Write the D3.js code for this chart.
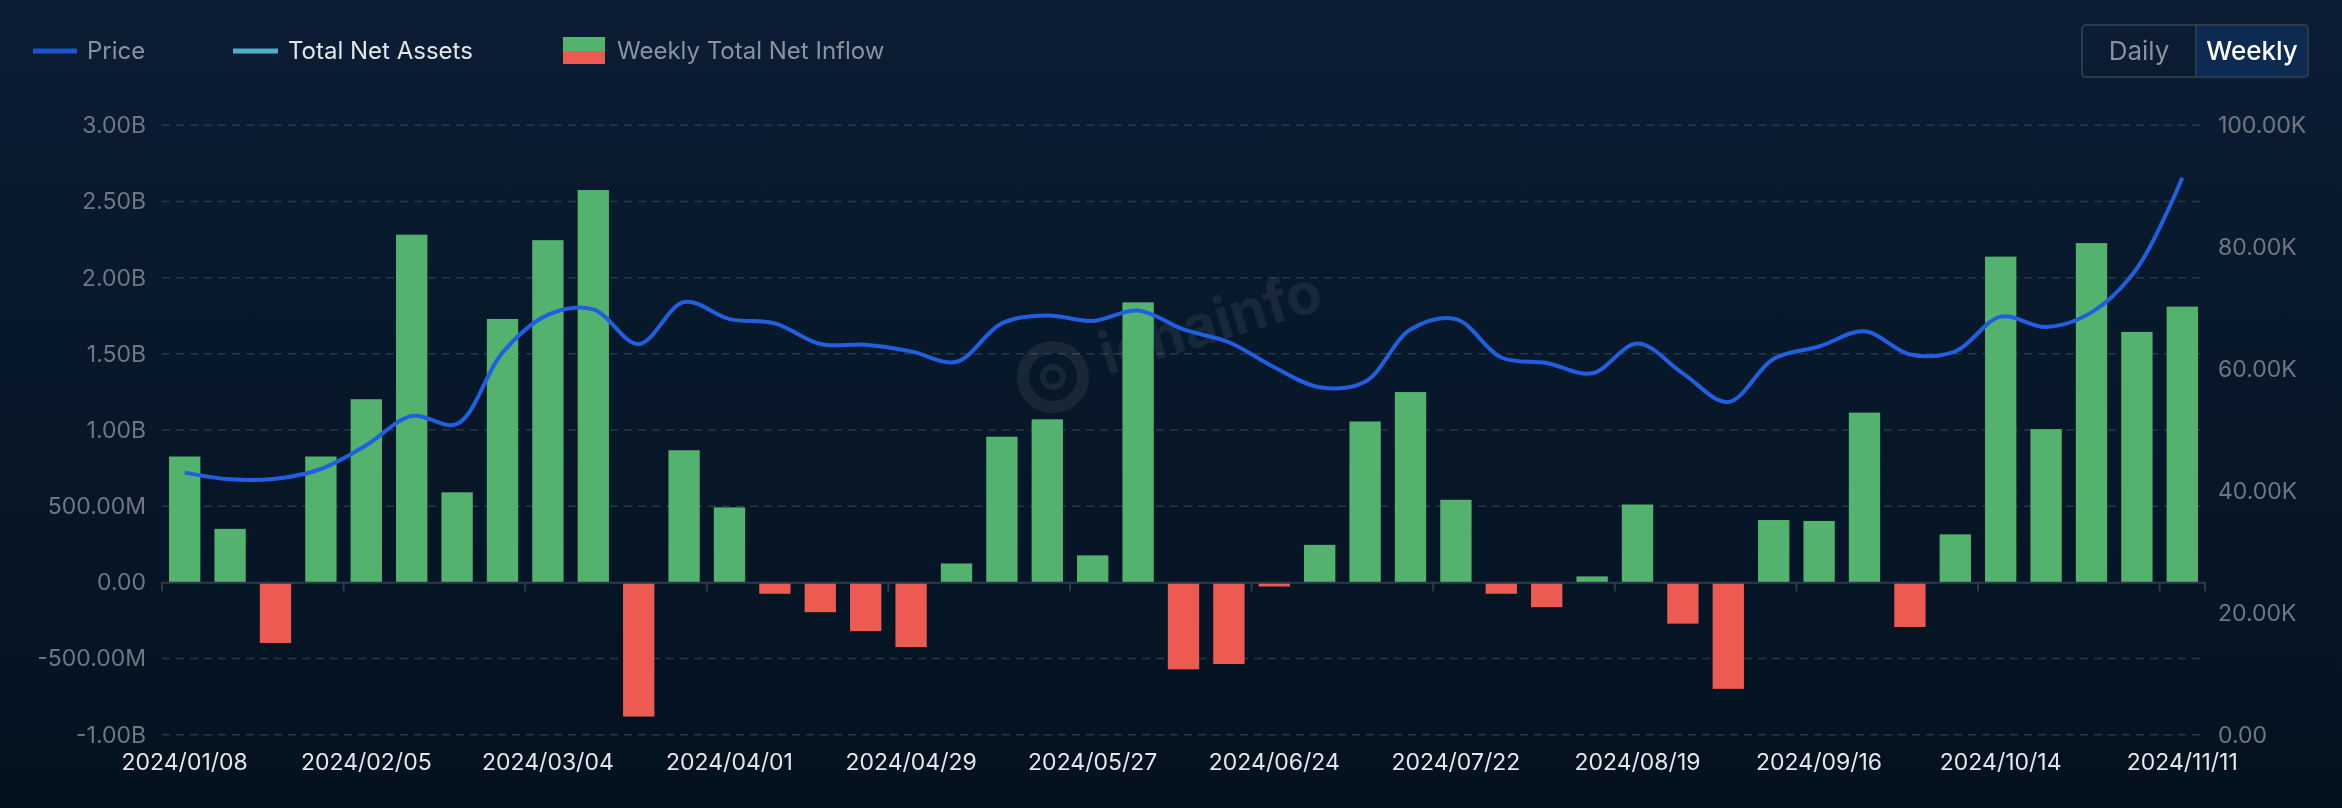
<!DOCTYPE html>
<html lang="en">
<head>
    <meta charset="UTF-8">
    <title>Weekly Total Net Inflow</title>
    <script src="https://cdn.jsdelivr.net/npm/d3@7"></script>
    <style>
        html, body {
            margin: 0;
            padding: 0;
            width: 2342px;
            height: 808px;
            overflow: hidden;
            background: #081a2e;
        }
        svg text {
            font-family: Inter, "Noto Sans", "Liberation Sans", sans-serif;
        }
    </style>
</head>
<body>
<div id="chart"></div>
<script>
    // weekly categories
    const weeks = [
        "2024/01/08", "2024/01/15", "2024/01/22", "2024/01/29",
        "2024/02/05", "2024/02/12", "2024/02/19", "2024/02/26",
        "2024/03/04", "2024/03/11", "2024/03/18", "2024/03/25",
        "2024/04/01", "2024/04/08", "2024/04/15", "2024/04/22",
        "2024/04/29", "2024/05/06", "2024/05/13", "2024/05/20",
        "2024/05/27", "2024/06/03", "2024/06/10", "2024/06/17",
        "2024/06/24", "2024/07/01", "2024/07/08", "2024/07/15",
        "2024/07/22", "2024/07/29", "2024/08/05", "2024/08/12",
        "2024/08/19", "2024/08/26", "2024/09/02", "2024/09/09",
        "2024/09/16", "2024/09/23", "2024/09/30", "2024/10/07",
        "2024/10/14", "2024/10/21", "2024/10/28", "2024/11/04",
        "2024/11/11"
    ];

    // weekly total net inflow, millions USD
    const netInflow = [
        826, 351, -398, 826, 1202, 2282, 591, 1729, 2246, 2575,
        -881, 867, 492, -75, -196, -320, -425, 124, 956, 1070,
        177, 1838, -571, -536, -27, 246, 1056, 1249, 542, -75,
        -163, 39, 511, -271, -699, 409, 403, 1114, -293, 315,
        2138, 1006, 2227, 1644, 1810
    ];

    // price, thousands USD
    const price = [
        43.0, 41.9, 42.0, 43.6, 47.5, 52.3, 51.0, 62.7, 68.9, 69.8,
        64.1, 71.0, 68.2, 67.5, 64.1, 64.0, 62.9, 61.2, 67.5, 68.8,
        67.9, 69.6, 66.5, 64.4, 60.3, 57.0, 57.9, 66.5, 68.2, 61.9,
        61.0, 59.3, 64.2, 59.3, 54.6, 61.7, 63.7, 66.2, 62.4, 62.9,
        68.6, 66.9, 69.3, 76.5, 91.4
    ];

    // axis ticks
    const leftTicks = [-1000, -500, 0, 500, 1000, 1500, 2000, 2500, 3000];
    const rightTicks = [0, 20, 40, 60, 80, 100];
    const labelWeeks = weeks.filter((d, i) => i % 4 === 0);

    const width = 2342;
    const height = 808;
    const plotLeft = 162, plotRight = 2205, plotTop = 125.3, plotBottom = 734.7;

    const svg = d3.select("#chart")
        .append("svg")
        .attr("width", width)
        .attr("height", height);

    // background
    const defs = svg.append("defs");
    const bg = defs.append("linearGradient")
        .attr("id", "bg")
        .attr("x1", 0).attr("y1", 0).attr("x2", 0).attr("y2", 1);
    bg.append("stop").attr("offset", "0%").attr("stop-color", "#0b1d34");
    bg.append("stop").attr("offset", "100%").attr("stop-color", "#04121f");
    svg.append("rect")
        .attr("width", width).attr("height", height)
        .attr("fill", "url(#bg)");

    const x = d3.scaleBand()
        .domain(weeks)
        .range([plotLeft, plotRight])
        .paddingInner(0.31)
        .paddingOuter(0.155);

    const yL = d3.scaleLinear().domain([-1000, 3000]).range([plotBottom, plotTop]);
    const yR = d3.scaleLinear().domain([0, 100]).range([plotBottom, plotTop]);

    const fmtL = v => v === 0 ? "0.00"
        : Math.abs(v) >= 1000 ? (v / 1000).toFixed(2) + "B"
        : v.toFixed(2) + "M";
    const fmtR = v => v === 0 ? "0.00" : v.toFixed(2) + "K";

    // grid
    svg.append("g")
        .selectAll("line")
        .data(leftTicks.filter(d => d !== 0))
        .enter()
        .append("line")
        .attr("x1", plotLeft).attr("x2", plotRight - 4)
        .attr("y1", d => yL(d)).attr("y2", d => yL(d))
        .attr("stroke", "#27384b")
        .attr("stroke-width", 1.5)
        .attr("stroke-dasharray", "8,6");

    // watermark
    const wm = svg.append("g")
        .attr("transform", "translate(1053,377)")
        .attr("opacity", 0.07);
    wm.append("circle").attr("r", 30).attr("fill", "none")
        .attr("stroke", "#ffffff").attr("stroke-width", 12);
    wm.append("circle").attr("r", 10).attr("fill", "none")
        .attr("stroke", "#ffffff").attr("stroke-width", 6);
    wm.append("text")
        .attr("x", 52).attr("y", 14)
        .attr("transform", "rotate(-17)")
        .attr("font-size", 58)
        .attr("font-weight", 700)
        .attr("fill", "#ffffff")
        .text("ichainfo");

    // bars
    svg.append("g")
        .selectAll("rect")
        .data(netInflow)
        .enter()
        .append("rect")
        .attr("x", (d, i) => x(weeks[i]))
        .attr("width", x.bandwidth())
        .attr("y", d => yL(Math.max(0, d)))
        .attr("height", d => Math.abs(yL(d) - yL(0)))
        .attr("fill", d => d >= 0 ? "#53b36e" : "#ec5a52");

    // x axis line at zero
    const xAxis = d3.axisBottom(x)
        .tickValues(labelWeeks)
        .tickSize(0)
        .tickPadding(0);
    const gx = svg.append("g")
        .attr("transform", `translate(0,${yL(0)})`)
        .call(xAxis);
    gx.select(".domain").attr("stroke", "#2c3a4b").attr("stroke-width", 2);
    gx.selectAll(".tick text").remove();

    // x ticks at band boundaries every 4 weeks
    const tickX = labelWeeks.map(d => x(d) - x.step() * x.paddingInner() / 2).concat([plotRight]);
    svg.append("g")
        .selectAll("line")
        .data(tickX)
        .enter()
        .append("line")
        .attr("x1", d => d).attr("x2", d => d)
        .attr("y1", yL(0)).attr("y2", yL(0) + 9)
        .attr("stroke", "#2c3a4b")
        .attr("stroke-width", 2);

    // x labels at bottom
    svg.append("g")
        .selectAll("text")
        .data(labelWeeks)
        .enter()
        .append("text")
        .attr("x", d => x(d) + x.bandwidth() / 2)
        .attr("y", 770)
        .attr("text-anchor", "middle")
        .attr("font-size", 23)
        .attr("fill", "#e4e7ec")
        .text(d => d);

    // left axis
    const gl = svg.append("g")
        .attr("transform", `translate(${plotLeft - 16},0)`)
        .call(d3.axisLeft(yL).tickValues(leftTicks).tickFormat(fmtL).tickSize(0).tickPadding(0));
    gl.select(".domain").remove();
    gl.selectAll("text")
        .attr("font-size", 23)
        .attr("fill", "#6f7784")
        .attr("font-family", "Inter, 'Noto Sans', sans-serif");

    // right axis
    const gr = svg.append("g")
        .attr("transform", `translate(${plotRight + 13},0)`)
        .call(d3.axisRight(yR).tickValues(rightTicks).tickFormat(fmtR).tickSize(0).tickPadding(0));
    gr.select(".domain").remove();
    gr.selectAll("text")
        .attr("font-size", 23)
        .attr("fill", "#6f7784")
        .attr("font-family", "Inter, 'Noto Sans', sans-serif");

    // price line
    const line = d3.line()
        .x((d, i) => x(weeks[i]) + x.bandwidth() / 2)
        .y(d => yR(d))
        .curve(d3.curveCatmullRom.alpha(0.5));
    svg.append("path")
        .datum(price)
        .attr("d", line)
        .attr("fill", "none")
        .attr("stroke", "#1f5fe0")
        .attr("stroke-width", 4)
        .attr("stroke-linejoin", "round");

    // legend
    const lg = svg.append("g");
    lg.append("line").attr("x1", 33).attr("x2", 77).attr("y1", 51).attr("y2", 51)
        .attr("stroke", "#1f55cc").attr("stroke-width", 5);
    lg.append("text").attr("x", 87).attr("y", 59).attr("font-size", 24)
        .attr("fill", "#8a92a0").text("Price");
    lg.append("line").attr("x1", 233).attr("x2", 278).attr("y1", 51).attr("y2", 51)
        .attr("stroke", "#4eb0c8").attr("stroke-width", 5);
    lg.append("text").attr("x", 288).attr("y", 59).attr("font-size", 24)
        .attr("fill", "#e2e5ea").text("Total Net Assets");
    lg.append("rect").attr("x", 563).attr("y", 37).attr("width", 42).attr("height", 14)
        .attr("fill", "#53b36e");
    lg.append("rect").attr("x", 563).attr("y", 51).attr("width", 42).attr("height", 13)
        .attr("fill", "#ec5a52");
    lg.append("text").attr("x", 617).attr("y", 59).attr("font-size", 24)
        .attr("fill", "#8a92a0").text("Weekly Total Net Inflow");

    // Daily / Weekly toggle
    const btn = svg.append("g");
    btn.append("rect").attr("x", 2196).attr("y", 25).attr("width", 112).attr("height", 52)
        .attr("fill", "#0d2b52");
    btn.append("rect").attr("x", 2082).attr("y", 25).attr("width", 226).attr("height", 52)
        .attr("rx", 4).attr("fill", "none").attr("stroke", "#2b3a4d").attr("stroke-width", 2);
    btn.append("line").attr("x1", 2196).attr("x2", 2196).attr("y1", 25).attr("y2", 77)
        .attr("stroke", "#2b3a4d").attr("stroke-width", 2);
    btn.append("text").attr("x", 2139).attr("y", 60).attr("text-anchor", "middle")
        .attr("font-size", 26).attr("fill", "#8a919c").text("Daily");
    btn.append("text").attr("x", 2252).attr("y", 60).attr("text-anchor", "middle")
        .attr("font-size", 26).attr("font-weight", 500).attr("fill", "#ffffff").text("Weekly");
</script>
</body>
</html>
